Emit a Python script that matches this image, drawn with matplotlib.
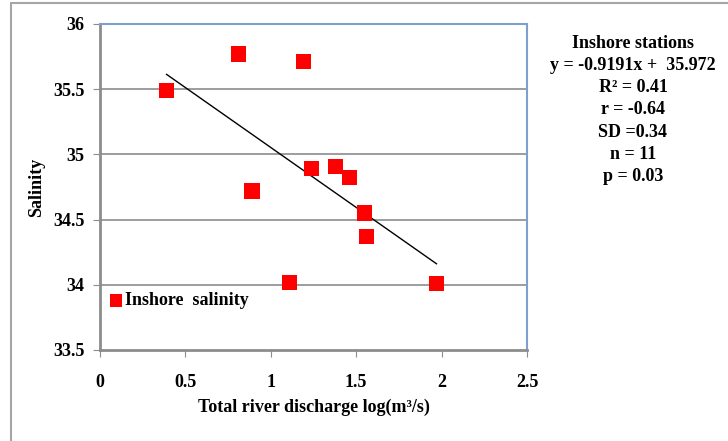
import numpy as np
import matplotlib.pyplot as plt
from matplotlib.patches import Rectangle

# Data
discharge = [0.39, 0.81, 1.19, 0.89, 1.24, 1.38, 1.46, 1.55, 1.56, 1.11, 1.97]
salinity = [35.49, 35.77, 35.71, 34.72, 34.89, 34.91, 34.82, 34.55, 34.37, 34.02, 34.01]
slope, intercept = -0.9191, 35.972
stats_lines = ['Inshore stations', 'y = -0.9191x +  35.972', 'R\u00b2 = 0.41',
               'r = -0.64', 'SD =0.34', 'n = 11', 'p = 0.03']
xticks = [0, 0.5, 1, 1.5, 2, 2.5]
yticks = [33.5, 34, 34.5, 35, 35.5, 36]

plt.rcParams['font.family'] = ['Liberation Serif', 'DejaVu Serif']
plt.rcParams['font.weight'] = 'bold'

fig = plt.figure(figsize=(7.28, 4.41), dpi=100)
ax = fig.add_axes([100/728, 1 - 350/441, 427/728, 326/441])

# outer frame (only left/top visible in the crop)
fig.patches.append(Rectangle((11/728, -0.1), 2, 1 - 3/441 + 0.1, transform=fig.transFigure,
                             fill=False, edgecolor='#a6a6a6', lw=1.5))

for y in yticks[1:-1]:
    ax.axhline(y, color='#8c8c8c', lw=1.2, zorder=1)

pts = ax.scatter(discharge, salinity, marker='s', s=120, color='#ff0000', edgecolor='none', zorder=3)
xl = np.array([min(discharge), max(discharge)])
ax.plot(xl, slope * xl + intercept, color='black', lw=1, zorder=2)

ax.set_xlim(0, 2.5)
ax.set_ylim(33.5, 36)
ax.set_xticks(xticks)
ax.set_yticks(yticks)
ax.set_xticklabels(['0', '0.5', '1', '1.5', '2', '2.5'], fontsize=13, fontweight='bold')
ax.set_yticklabels(['33.5', '34', '34.5', '35', '35.5', '36'], fontsize=13, fontweight='bold')
ax.tick_params(axis='x', direction='out', length=5, color='#8c8c8c', pad=12)
ax.tick_params(axis='y', direction='out', length=5, color='#8c8c8c', pad=6)

for side in ['left', 'bottom']:
    ax.spines[side].set_color('#8c8c8c')
    ax.spines[side].set_linewidth(2)
for side in ['top', 'right']:
    ax.spines[side].set_color('#7f9fcf')
    ax.spines[side].set_linewidth(1.5)

ax.set_xlabel('Total river discharge log(m\u00b3/s)', fontsize=13, fontweight='bold', labelpad=6)
ax.set_ylabel('Salinity', fontsize=13, fontweight='bold', labelpad=6)

leg = ax.legend([pts], ['Inshore  salinity'], loc='lower left', bbox_to_anchor=(-0.022, 0.075),
                frameon=False, prop={'size': 13, 'weight': 'bold'},
                handletextpad=0.0, markerscale=0.8, handlelength=1.0, scatterpoints=1)

y0 = 43
for i, line in enumerate(stats_lines):
    fig.text(633/728, 1 - (y0 + i * 22.3) / 441, line, ha='center', va='center',
             fontsize=13, fontweight='bold')

fig.savefig('out.png', dpi=100)
